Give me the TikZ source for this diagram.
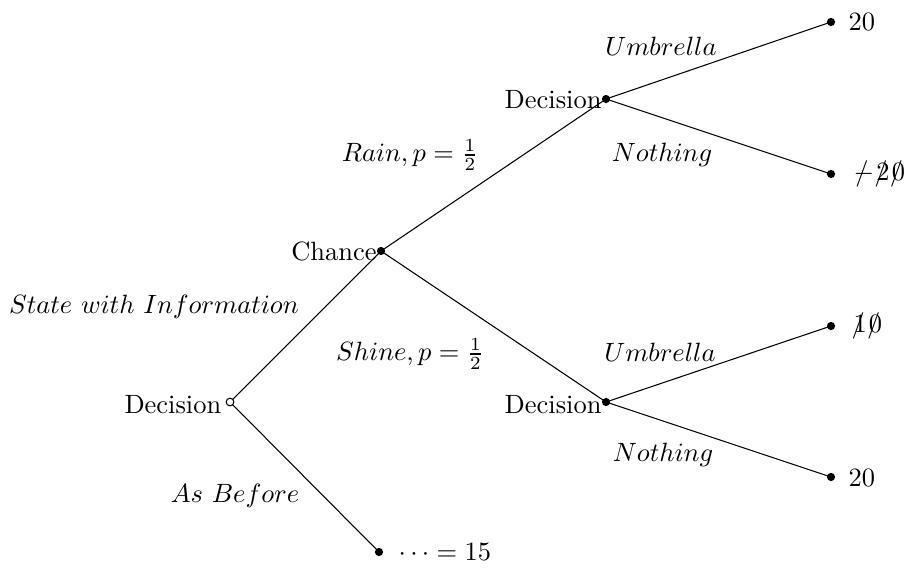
\documentclass[tikz,border=0pt]{standalone}
\newcommand\stk[1]{\mathord{\ooalign{$#1$\cr\hidewidth$/$\kern1.4pt\hidewidth\cr}}\mkern1.5mu}
\begin{document}
\begin{tikzpicture}[x=0.378pt,y=-0.378pt,
  dot/.style={circle,fill=black,inner sep=0pt,minimum size=3.1pt},
  odot/.style={circle,draw=black,fill=white,inner sep=0pt,minimum size=2.9pt,line width=0.4pt},
  branch/.style={draw=black,line width=0.4pt},
  nlab/.style={anchor=east,inner sep=0.5pt},
  leaf/.style={anchor=west,inner sep=0pt},
  elab/.style={inner sep=0pt}]
\useasboundingbox (0,0) rectangle (910,568);
\coordinate (r) at (230,402);
\coordinate (c) at (381,251);
\coordinate (du) at (606,99);
\coordinate (dl) at (606,402);
\coordinate (l1) at (831,22);
\coordinate (l2) at (831,174);
\coordinate (l3) at (831,326);
\coordinate (l4) at (831,477);
\coordinate (l5) at (379,552);
\draw[branch] (r) -- (c);
\draw[branch] (r) -- (l5);
\draw[branch] (c) -- (du);
\draw[branch] (c) -- (dl);
\draw[branch] (du) -- (l1);
\draw[branch] (du) -- (l2);
\draw[branch] (dl) -- (l3);
\draw[branch] (dl) -- (l4);
\node[odot] (rn) at (r) {};
\node[dot] (cn) at (c) {};
\node[dot] (dun) at (du) {};
\node[dot] (dln) at (dl) {};
\node[dot] (l1n) at (l1) {};
\node[dot] (l2n) at (l2) {};
\node[dot] (l3n) at (l3) {};
\node[dot] (l4n) at (l4) {};
\node[dot] (l5n) at (l5) {};
\node[nlab] (rt) at ([xshift=-2.6pt,yshift=-0.8pt]r) {Decision};
\node[nlab] (ct) at ([xshift=-1pt]c) {Chance};
\node[nlab] (dut) at ([xshift=-1pt,yshift=-0.4pt]du) {Decision};
\node[nlab] (dlt) at ([xshift=-1pt,yshift=-0.8pt]dl) {Decision};
\node[leaf] (v1) at (848,22) {20};
\node[leaf] (v2) at (853,175) {$\stk{-}\stk2\stk0$};
\node[leaf] (v3) at (853,327) {$\stk1\stk0$};
\node[leaf] (v4) at (848,478) {20};
\node[leaf] (v5) at (398,552) {$\cdots=15$};
\node[elab] (e1) at (661,46) {$Umbrella$};
\node[elab] (e2) at (662,155) {$Nothing$};
\node[elab] (e3) at (410,155) {$Rain, p=\frac{1}{2}$};
\node[elab] (e4) at (154,307) {$State\ with\ Information$};
\node[elab] (e5) at (410,354) {$Shine, p=\frac{1}{2}$};
\node[elab] (e6) at (660,352) {$Umbrella$};
\node[elab] (e7) at (663,455) {$Nothing$};
\node[elab] (e8) at (235,496) {$As\ Before$};
\end{tikzpicture}
\end{document}
